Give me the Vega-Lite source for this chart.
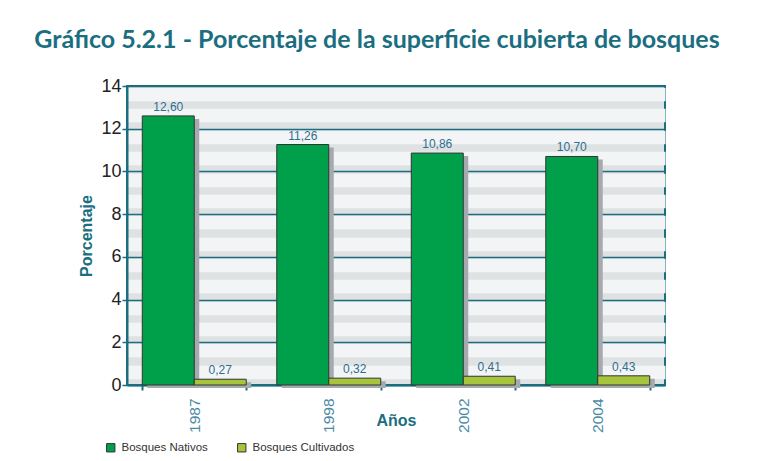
{
  "$schema": "https://vega.github.io/schema/vega-lite/v6.json",
  "width": 538,
  "height": 299,
  "autosize": "none",
  "padding": {"left": 127, "top": 86, "right": 97, "bottom": 76},
  "background": "white",
  "config": {
    "locale": {"number": {"decimal": ",", "thousands": ".", "grouping": [3], "currency": ["", ""]}},
    "view": {"stroke": "#1b6e80", "strokeWidth": 2, "fill": "#dfe2e3"},
    "font": "Liberation Sans"
  },
  "title": {
    "text": "Gráfico 5.2.1 - Porcentaje de la superficie cubierta de bosques",
    "font": "Lato",
    "fontSize": 25,
    "fontWeight": "bold",
    "color": "#1b6e80",
    "anchor": "middle",
    "frame": "group",
    "dx": -19,
    "offset": 24
  },
  "data": {
    "values": [
      {"year": "1987", "series": "Bosques Nativos", "value": 12.60},
      {"year": "1987", "series": "Bosques Cultivados", "value": 0.27},
      {"year": "1998", "series": "Bosques Nativos", "value": 11.26},
      {"year": "1998", "series": "Bosques Cultivados", "value": 0.32},
      {"year": "2002", "series": "Bosques Nativos", "value": 10.86},
      {"year": "2002", "series": "Bosques Cultivados", "value": 0.41},
      {"year": "2004", "series": "Bosques Nativos", "value": 10.70},
      {"year": "2004", "series": "Bosques Cultivados", "value": 0.43}
    ]
  },
  "encoding": {
    "x": {
      "field": "year",
      "type": "nominal",
      "scale": {"paddingInner": 0.227, "paddingOuter": 0.1135},
      "axis": {
        "title": "Años",
        "titleFontSize": 16,
        "titleFontWeight": "bold",
        "titleColor": "#1b6e80",
        "titleY": 35,
        "titleBaseline": "middle",
        "labelAngle": -90,
        "labelFontSize": 15.5,
        "labelColor": "#4b8aa5",
        "labelPadding": 8,
        "tickBand": "extent",
        "tickColor": "#1b6e80",
        "tickSize": 5,
        "tickWidth": 2,
        "domainColor": "#1b6e80",
        "domainWidth": 2,
        "grid": false
      }
    }
  },
  "layer": [
    {
      "mark": {"type": "bar", "color": "#a6aaae", "yOffset": 3},
      "encoding": {
        "xOffset": {
          "field": "series",
          "type": "nominal",
          "sort": ["Bosques Nativos", "Bosques Cultivados"],
          "scale": {"paddingInner": 0, "paddingOuter": 0, "range": [5, 108.97]}
        },
        "y": {
          "field": "value",
          "type": "quantitative",
          "scale": {"domain": [0, 14], "nice": false},
          "axis": {
            "orient": "right",
            "labels": false,
            "ticks": false,
            "domain": false,
            "title": null,
            "grid": true,
            "values": [0.62, 1.62, 2.62, 3.62, 4.62, 5.62, 6.62, 7.62, 8.62, 9.62, 10.62, 11.62, 12.62, 13.62],
            "gridColor": "#f3f4f6",
            "gridWidth": 13.5
          }
        }
      }
    },
    {
      "mark": {"type": "bar", "stroke": "#333333", "strokeWidth": 1},
      "encoding": {
        "xOffset": {
          "field": "series",
          "type": "nominal",
          "sort": ["Bosques Nativos", "Bosques Cultivados"],
          "scale": {"paddingInner": 0, "paddingOuter": 0}
        },
        "y": {
          "field": "value",
          "type": "quantitative",
          "scale": {"domain": [0, 14], "nice": false},
          "axis": {
            "values": [0, 2, 4, 6, 8, 10, 12, 14],
            "grid": true,
            "gridColor": "#1b6e80",
            "gridWidth": 1.5,
            "domainColor": "#1b6e80",
            "domainWidth": 2,
            "tickColor": "#1b6e80",
            "tickSize": 5,
            "tickWidth": 1.5,
            "labelFontSize": 18,
            "labelColor": "#222222",
            "labelPadding": 1,
            "title": "Porcentaje",
            "titleFontSize": 16,
            "titleFontWeight": "bold",
            "titleColor": "#1b6e80",
            "titlePadding": 6
          }
        },
        "color": {
          "field": "series",
          "type": "nominal",
          "sort": ["Bosques Nativos", "Bosques Cultivados"],
          "scale": {"domain": ["Bosques Nativos", "Bosques Cultivados"], "range": ["#00a04b", "#a7c53c"]},
          "legend": {
            "orient": "none",
            "legendX": -22,
            "legendY": 356,
            "direction": "horizontal",
            "title": null,
            "symbolType": "square",
            "symbolSize": 70,
            "symbolStrokeColor": "#333333",
            "symbolStrokeWidth": 1,
            "symbolOpacity": 1,
            "labelFontSize": 11.5,
            "labelColor": "#333333",
            "labelOffset": 5,
            "columnPadding": 27
          }
        }
      }
    },
    {
      "mark": {"type": "text", "baseline": "alphabetic", "dy": -5, "fontSize": 12, "color": "#2d6f8e"},
      "encoding": {
        "xOffset": {
          "field": "series",
          "type": "nominal",
          "sort": ["Bosques Nativos", "Bosques Cultivados"],
          "scale": {"type": "band", "paddingInner": 0, "paddingOuter": 0}
        },
        "y": {"field": "value", "type": "quantitative", "axis": null},
        "text": {"field": "value", "type": "quantitative", "format": ".2f"}
      }
    }
  ],
  "resolve": {"axis": {"y": "independent"}, "scale": {"xOffset": "independent"}}
}
